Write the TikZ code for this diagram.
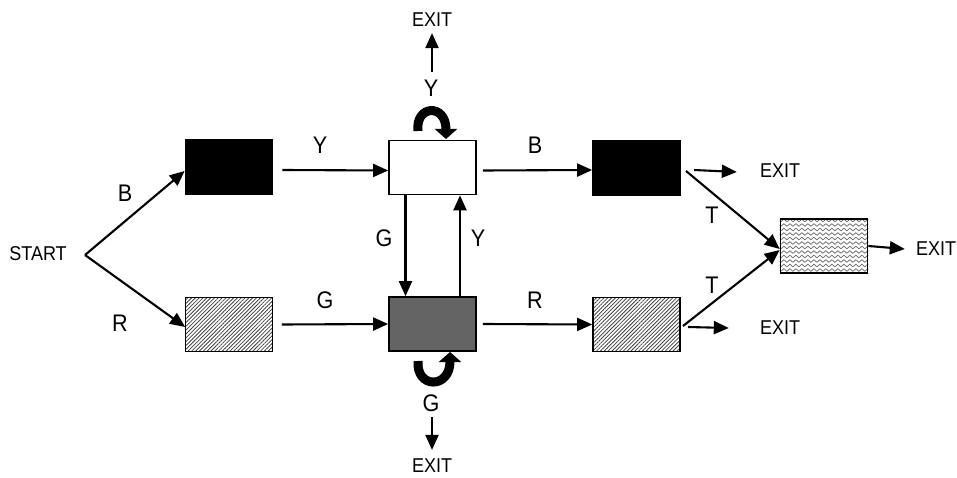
\documentclass[tikz,border=0pt]{standalone}
\usepackage{fontspec}
\setmainfont{Liberation Sans}
\usepackage{graphicx}
\usetikzlibrary{arrows.meta,patterns.meta,decorations.pathmorphing}
\newcommand{\nx}[1]{\scalebox{0.9}[1]{#1}}
\begin{document}
\begin{tikzpicture}[x=1pt,y=-1pt,
  box/.style={draw=black,line width=1.7pt,minimum width=87pt,minimum height=54pt,inner sep=0pt},
  arr/.style={line width=2.1pt,-{Triangle[length=15pt,width=13pt]}},
  curl/.style={line width=9pt,-{Triangle[length=10pt,width=22pt]}},
  lab/.style={font=\fontsize{24}{24}\selectfont,inner sep=0pt},
  ex/.style={font=\fontsize{20}{20}\selectfont,inner sep=0pt},
  hatch/.style={pattern={Lines[angle=45,distance=2.7pt,line width=0.8pt]},pattern color=black!75}]
\useasboundingbox (0,0) rectangle (957,478);
% boxes
\node[box,fill=black] (b1) at (229,167) {};
\node[box,hatch] (h1) at (229,324.5) {};
\node[box,fill=white] (w) at (432.5,167.5) {};
\node[box,fill={rgb,255:red,100;green,100;blue,100}] (g) at (432.5,324) {};
\node[box,fill=black] (b2) at (636.5,168) {};
\node[box,hatch] (h2) at (636.5,324.5) {};
\node[box] (wv) at (824,246) {};
\begin{scope}
\clip (wv.south west) rectangle (wv.north east);
\foreach \yy in {216,220.5,...,280}{
  \draw[black!60,line width=0.7pt,decorate,decoration={snake,segment length=6pt,amplitude=1.3pt}] (776,\yy) -- (872,\yy);
}
\end{scope}
\node[box] at (wv) {};
% texts
\node[ex] (start) at (38,254) {\nx{START}};
\coordinate (st) at (85,255);
\node[lab] (lB1) at (125,193) {\nx{B}};
\node[lab] (lR1) at (120,323) {\nx{R}};
\node[lab] (lY1) at (320,145) {\nx{Y}};
\node[lab] (lG1) at (325,300) {\nx{G}};
\node[lab] (lG2) at (384,238) {\nx{G}};
\node[lab] (lY2) at (478,238) {\nx{Y}};
\node[lab] (lB2) at (535,145) {\nx{B}};
\node[lab] (lR2) at (535,300) {\nx{R}};
\node[lab] (lYt) at (431,88) {\nx{Y}};
\node[ex] (ext) at (432,20) {\nx{EXIT}};
\node[lab] (lGb) at (431,403) {\nx{G}};
\node[ex] (exb) at (432,466) {\nx{EXIT}};
\node[lab] (lT1) at (712,215) {\nx{T}};
\node[lab] (lT2) at (712,285) {\nx{T}};
\node[ex] (ex1) at (780,171) {\nx{EXIT}};
\node[ex] (ex2) at (780,328) {\nx{EXIT}};
\node[ex] (ex3) at (936,249) {\nx{EXIT}};
% connectors
\draw[arr] (st) -- ([yshift=-4pt]b1.west);
\draw[arr] (st) -- ([yshift=-2.5pt]h1.west);
\draw[arr] ([xshift=9pt,yshift=-3pt]b1.east) -- ([yshift=-3pt]w.west);
\draw[arr] ([xshift=9pt]h1.east) -- (g.west);
\draw[arr] ([xshift=-27pt]w.south) -- ([xshift=-27pt]g.north);
\draw[arr] ([xshift=27.5pt]g.north) -- ([xshift=27.5pt]w.south);
\draw[arr] ([xshift=6pt,yshift=-3pt]w.east) -- ([yshift=-2pt]b2.west);
\draw[arr] ([xshift=6pt]g.east) -- (h2.west);
\coordinate (c1) at (686,171);
\coordinate (c2) at (683,326);
\draw[arr] (c1) -- ([yshift=-3pt]wv.west);
\draw[arr] (c2) -- ([yshift=-4pt]wv.west);
\draw[arr] (694,170) -- ([xshift=-23pt,yshift=-1pt]ex1.west);
\draw[arr] (688,327) -- ([xshift=-31pt]ex2.west);
\draw[arr] (wv.east) -- ([xshift=-11pt]ex3.west);
\draw[arr] (432,72) -- ([yshift=-6pt]ext.south);
\draw[arr] (432,417) -- ([yshift=9pt]exb.north);
% curls
\draw[curl] (418,131) .. controls (415,105) and (446,103) .. (446,139);
\draw[curl] (418,361) .. controls (416,389) and (450,389) .. (450,352);
\end{tikzpicture}
\end{document}
